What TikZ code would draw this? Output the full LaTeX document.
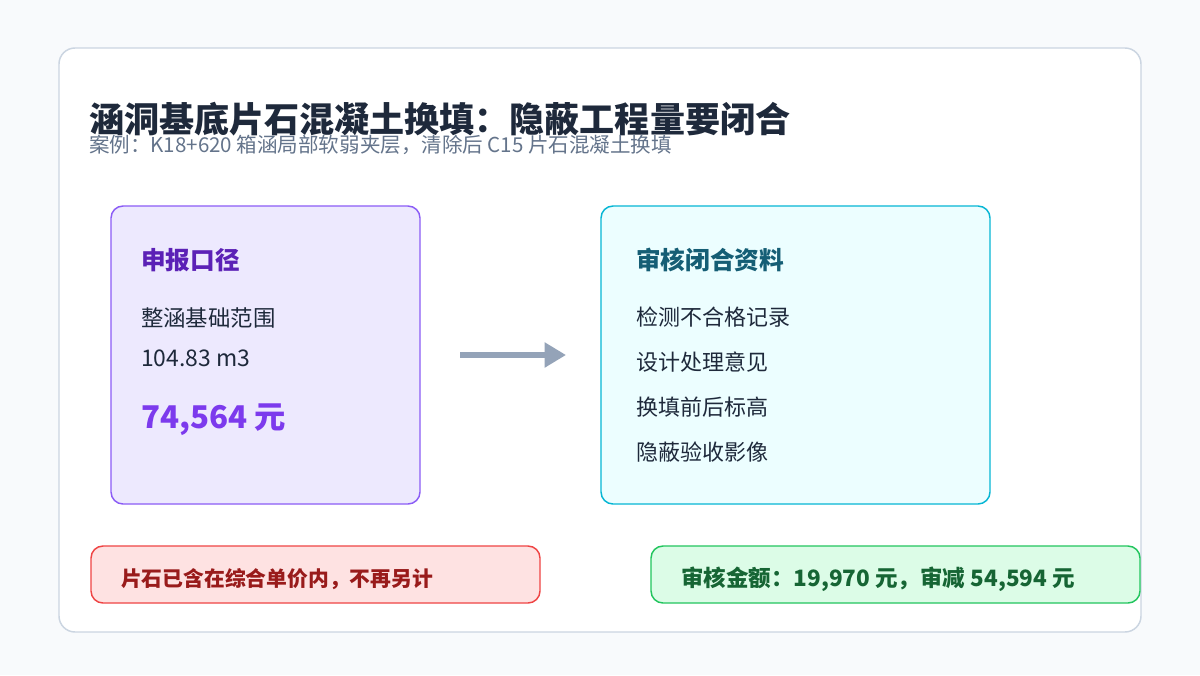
\documentclass[tikz,border=0pt]{standalone}
\usepackage{fontspec}
\setmainfont{Noto Sans CJK SC}
\usetikzlibrary{arrows.meta}
\definecolor{bg}{HTML}{F8FAFC}
\definecolor{cardline}{HTML}{CBD5E1}
\definecolor{titlec}{HTML}{1E293B}
\definecolor{subc}{HTML}{64748B}
\definecolor{pfill}{HTML}{EDE9FE}
\definecolor{pline}{HTML}{8B5CF6}
\definecolor{ptitle}{HTML}{5B21B6}
\definecolor{pbig}{HTML}{7C3AED}
\definecolor{cfill}{HTML}{ECFEFF}
\definecolor{cline}{HTML}{06B6D4}
\definecolor{ctitle}{HTML}{155E75}
\definecolor{arrowc}{HTML}{94A3B8}
\definecolor{rfill}{HTML}{FEE2E2}
\definecolor{rline}{HTML}{EF4444}
\definecolor{rtext}{HTML}{991B1B}
\definecolor{gfill}{HTML}{DCFCE7}
\definecolor{gline}{HTML}{22C55E}
\definecolor{gtext}{HTML}{166534}
\newcommand{\fs}[1]{\fontsize{#1}{#1}\selectfont}
\tikzset{
  lbl/.style={anchor=base west, inner sep=0pt, outer sep=0pt},
  panel/.style={rounded corners=9pt, line width=1.1pt},
}
\begin{document}
\begin{tikzpicture}[x=0.75pt,y=-0.75pt]
\fill[bg] (0,0) rectangle (1200,675);
\useasboundingbox (0,0) rectangle (1200,675);
% card
\draw[fill=white, draw=cardline, line width=1.1pt, rounded corners=12pt] (59,48) rectangle (1141,632);
% title
\node[lbl, text=titlec, font=\fs{26.3}\bfseries] (title) at (89,132) {涵洞基底片石混凝土换填：隐蔽工程量要闭合};
\node[lbl, text=subc, font=\fs{15.4}] (sub) at (89,152) {案例：K18+620 箱涵局部软弱夹层，清除后 C15 片石混凝土换填};
% left panel
\draw[panel, fill=pfill, draw=pline] (111,206) rectangle (420,504);
\node[lbl, text=ptitle, font=\fs{18.5}\bfseries] (lt) at (141,269) {申报口径};
\node[lbl, text=titlec, font=\fs{16.8}] (l1) at (141,326) {整涵基础范围};
\node[lbl, text=titlec, font=\fs{17.2}] (l2) at (141,366) {104.83 m3};
\node[lbl, text=pbig, font=\fs{23.5}\bfseries] (l3) at (141,428) {74,564 元};
% right panel
\draw[panel, fill=cfill, draw=cline] (601,206) rectangle (990,504);
\node[lbl, text=ctitle, font=\fs{18.5}\bfseries] (rt) at (636,269) {审核闭合资料};
\node[lbl, text=titlec, font=\fs{16.5}] (r1) at (636,325) {检测不合格记录};
\node[lbl, text=titlec, font=\fs{16.5}] (r2) at (636,370) {设计处理意见};
\node[lbl, text=titlec, font=\fs{16.5}] (r3) at (636,415) {换填前后标高};
\node[lbl, text=titlec, font=\fs{16.5}] (r4) at (636,460) {隐蔽验收影像};
% arrow
\coordinate (a1) at (460,355);
\coordinate (a2) at (566,355);
\draw[arrowc, line width=3.8pt, -{Triangle[length=16pt,width=18pt]}] (a1) -- (a2);
% bottom boxes
\draw[panel, fill=rfill, draw=rline] (91,546) rectangle (540,603);
\node[lbl, text=rtext, font=\fs{15.6}\bfseries] (b1) at (121,586) {片石已含在综合单价内，不再另计};
\draw[panel, fill=gfill, draw=gline] (651,546) rectangle (1140,603);
\node[lbl, text=gtext, font=\fs{16.9}\bfseries] (b2) at (681,586) {审核金额：19,970 元，审减 54,594 元};
\end{tikzpicture}
\end{document}
